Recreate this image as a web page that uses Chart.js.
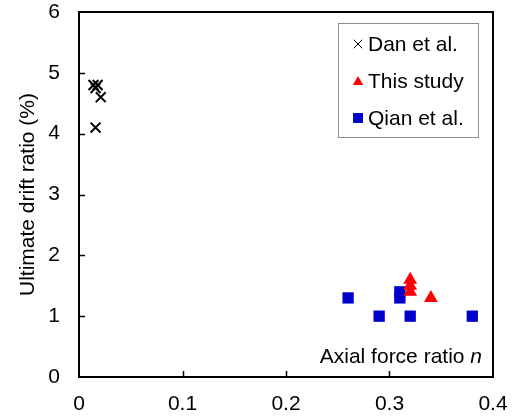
<!DOCTYPE html>
<html>
<head>
<meta charset="utf-8">
<script src="https://cdn.jsdelivr.net/npm/chart.js@4/dist/chart.umd.min.js"></script>
<style>
  body { margin: 0; background: #fff; }
  #wrap { width: 516px; height: 416px; }
</style>
</head>
<body>
<div id="wrap"><canvas id="chart" width="516" height="416"></canvas></div>
<script>
// values
const danX = [0.014, 0.018, 0.016, 0.021, 0.016]
const danY = [4.8, 4.8, 4.75, 4.6, 4.1]
const studyX = [0.32, 0.32, 0.32, 0.34]
const studyY = [1.6, 1.5, 1.4, 1.3]
const qianX = [0.26, 0.29, 0.31, 0.31, 0.32, 0.38]
const qianY = [1.3, 1.0, 1.4, 1.3, 1.0, 1.0]
const seriesNames = ['Dan et al.', 'This study', 'Qian et al.']
const xTicks = [0, 0.1, 0.2, 0.3, 0.4]
const yTicks = [0, 1, 2, 3, 4, 5, 6]

const FONT = '"Liberation Sans", Arial, sans-serif'
const toPoints = (xs, ys) => xs.map((x, i) => ({ x: x, y: ys[i] }))

// frame, inward ticks, in-plot x title and boxed legend
const framePlugin = {
  id: 'frame',
  afterDraw(chart) {
    const { ctx, chartArea: a, scales } = chart
    ctx.save()
    ctx.strokeStyle = '#000'
    ctx.lineWidth = 2
    ctx.strokeRect(a.left, a.top, a.right - a.left, a.bottom - a.top)
    ctx.lineWidth = 1.5
    ctx.beginPath()
    xTicks.slice(1, -1).forEach(v => {
      const px = Math.round(scales.x.getPixelForValue(v)) + 0.5
      ctx.moveTo(px, a.bottom)
      ctx.lineTo(px, a.bottom - 6)
    })
    yTicks.slice(1, -1).forEach(v => {
      const py = Math.round(scales.y.getPixelForValue(v)) + 0.5
      ctx.moveTo(a.left, py)
      ctx.lineTo(a.left + 6, py)
    })
    ctx.stroke()

    // x axis title inside the plot
    ctx.fillStyle = '#000'
    ctx.textBaseline = 'alphabetic'
    ctx.textAlign = 'right'
    ctx.font = 'italic 21px ' + FONT
    const nW = ctx.measureText('n').width
    ctx.fillText('n', a.right - 11, a.bottom - 14)
    ctx.font = '21px ' + FONT
    ctx.fillText('Axial force ratio ', a.right - 11 - nW, a.bottom - 14)

    // legend
    const bx = 338, by = 23, bw = 140, bh = 114
    ctx.strokeStyle = '#8c8c8c'
    ctx.lineWidth = 1
    ctx.fillStyle = '#fff'
    ctx.fillRect(bx, by, bw, bh)
    ctx.strokeRect(bx + 0.5, by + 0.5, bw, bh)
    chart.data.datasets.forEach((ds, i) => {
      const cy = 44 + i * 37
      ctx.fillStyle = ds.backgroundColor
      ctx.strokeStyle = ds.borderColor
      Chart.helpers.drawPoint(ctx, {
        pointStyle: ds.pointStyle,
        radius: ds.pointStyle === 'rect' ? 7 : 6,
        rotation: 0,
        borderWidth: ds.pointBorderWidth
      }, 358, ds.pointStyle === 'triangle' ? cy + 1 : cy)
      ctx.fillStyle = '#000'
      ctx.textAlign = 'left'
      ctx.font = '21px ' + FONT
      ctx.fillText(ds.label, 368, cy + 7)
    })
    ctx.restore()
  }
}

const noPad = s => {
  s.paddingLeft = 0
  s.paddingRight = 0
  s.paddingTop = 0
  s.paddingBottom = 0
}

new Chart(document.getElementById('chart'), {
  type: 'scatter',
  data: {
    datasets: [
      {
        label: seriesNames[0],
        data: toPoints(danX, danY),
        pointStyle: 'crossRot',
        pointRadius: 7,
        pointBorderWidth: 2,
        borderColor: '#000',
        backgroundColor: '#000'
      },
      {
        label: seriesNames[1],
        data: toPoints(studyX, studyY),
        pointStyle: 'triangle',
        pointRadius: 8,
        pointBorderWidth: 0,
        borderColor: '#ff0000',
        backgroundColor: '#ff0000'
      },
      {
        label: seriesNames[2],
        data: toPoints(qianX, qianY),
        pointStyle: 'rect',
        pointRadius: 8,
        pointBorderWidth: 0,
        borderColor: '#0000cc',
        backgroundColor: '#0000cc'
      }
    ]
  },
  options: {
    responsive: false,
    animation: false,
    layout: { padding: { top: 12, right: 23, left: 0, bottom: 0 } },
    plugins: {
      legend: { display: false },
      tooltip: { enabled: false }
    },
    scales: {
      x: {
        type: 'linear',
        min: 0,
        max: 0.4,
        afterBuildTicks: s => { s.ticks = xTicks.map(v => ({ value: v })) },
        afterFit: s => { s.height = 39; noPad(s) },
        grid: { display: false, drawTicks: false },
        border: { display: false },
        ticks: {
          color: '#000',
          padding: 15,
          maxRotation: 0,
          font: { family: FONT, size: 21 },
          callback: v => String(v)
        }
      },
      y: {
        type: 'linear',
        min: 0,
        max: 6,
        afterBuildTicks: s => { s.ticks = yTicks.map(v => ({ value: v })) },
        afterFit: s => { s.width = 79; noPad(s) },
        grid: { display: false, drawTicks: false },
        border: { display: false },
        title: {
          display: true,
          text: 'Ultimate drift ratio (%)',
          color: '#000',
          padding: { top: 16, bottom: 0 },
          font: { family: FONT, size: 21 }
        },
        ticks: {
          color: '#000',
          padding: 19,
          font: { family: FONT, size: 21 }
        }
      }
    }
  },
  plugins: [framePlugin]
})
</script>
</body>
</html>
